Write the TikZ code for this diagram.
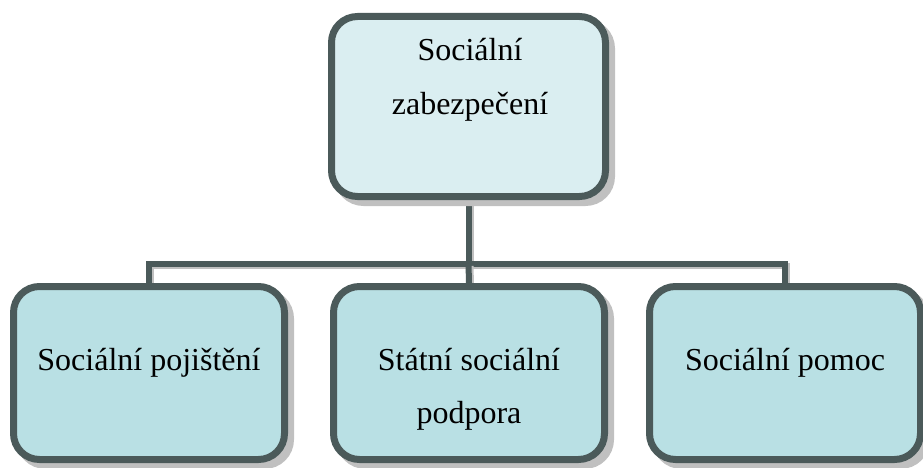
\documentclass[tikz,border=0pt]{standalone}
\usepackage{fontspec}
\setmainfont{Liberation Serif}
\usetikzlibrary{shadows,backgrounds}
\definecolor{bordc}{HTML}{4B5A5A}
\definecolor{topfill}{HTML}{DAEEF1}
\definecolor{botfill}{HTML}{B9E0E4}
\definecolor{shadc}{HTML}{C0C0C0}
\tikzset{
  boxbase/.style={draw=bordc, line width=7pt, rounded corners=26pt,
    drop shadow={shadow xshift=6pt, shadow yshift=-6pt, fill=shadc, draw=shadc, line width=7pt, opacity=1}},
  topbox/.style={boxbase, fill=topfill, minimum width=274pt, minimum height=180pt},
  botbox/.style={boxbase, fill=botfill, minimum width=271pt, minimum height=173pt},
  lbl/.style={font=\fontsize{32}{54}\selectfont, align=center, inner sep=0pt},
  conn/.style={draw=bordc, line width=6pt,
    preaction={draw=shadc, line width=6pt, transform canvas={shift={(2pt,-2pt)}}}}
}
\begin{document}
\begin{tikzpicture}[x=1pt,y=-1pt]
\useasboundingbox (0,0) rectangle (923,468);
\node[topbox] (top) at (468.5,106.5) {};
\node[botbox] (b1) at (149,373) {};
\node[botbox] (b2) at (469,373) {};
\node[botbox] (b3) at (785,373) {};
\node[lbl, anchor=base] (t1) at (470,61) {Sociální};
\node[lbl, anchor=base] (t2) at (470,115) {zabezpečení};
\node[lbl, anchor=base] (l1) at (149,370) {Sociální pojištění};
\node[lbl, anchor=base] (l2a) at (469,370) {Státní sociální};
\node[lbl, anchor=base] (l2b) at (469,423) {podpora};
\node[lbl, anchor=base] (l3) at (785,370) {Sociální pomoc};
\begin{pgfonlayer}{background}
\coordinate (j) at (top.south |- 0,264);
\draw[conn] (top.south) -- (j);
\draw[conn] (b1.north) |- (j) -| (b3.north);
\draw[conn] (j) -- (b2.north);
\end{pgfonlayer}
\end{tikzpicture}
\end{document}
